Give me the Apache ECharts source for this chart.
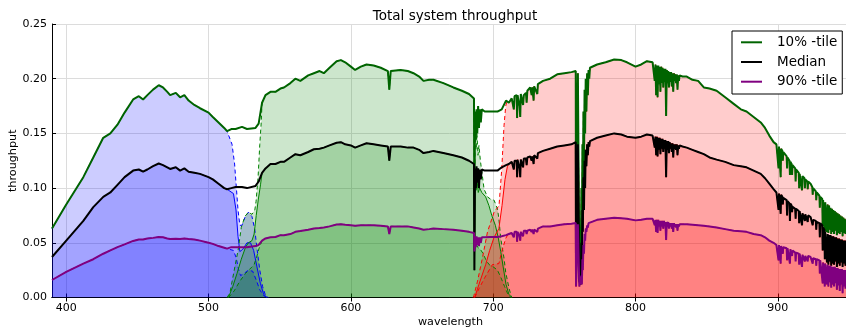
<!DOCTYPE html>
<html>
<head>
<meta charset="utf-8">
<script src="https://cdn.jsdelivr.net/npm/echarts@6/dist/echarts.min.js"></script>
<style>
html, body { margin: 0; padding: 0; background: #fff; }
#chart { width: 846px; height: 329px; }
</style>
</head>
<body>
<div id="chart"></div>
<script>
// Wavelength grid (nm) shared by the three total-throughput percentiles.
// Rows are split by spectral region; the last blocks carry telluric absorption lines.
const wavelength = [
  // blue / green continuum
  390, 400, 412, 419, 426, 431, 436, 441, 447, 451, 454, 457, 461, 465, 468, 471, 473, 477, 480, 483,
  486, 490, 494, 500, 503, 507, 511, 513, 516, 519, 523.5, 527, 533, 535.2, 537.6, 540, 543.5, 547, 550.5, 553,
  557.5, 561, 564.5, 570, 574, 578, 581, 585, 590, 593, 596, 600, 603, 607, 611, 616, 621, 626, 627, 628,
  635, 640, 644, 648, 651, 655, 658, 665, 672, 678, 683, 686.5, 686.8, 687.2, 687.8, 688.3, 688.8, 689.4, 690, 690.6,
  691.3, 692, 694, 698, 703, 706, 709,
  // 711-735 water lines
  711, 713, 714, 714.5, 715, 716.5, 716.8, 717.1, 718, 718.5, 719, 719.4, 720.5, 721, 721.5, 723, 723.5, 724, 726, 727,
  727.5, 728.4, 728.8, 730, 731, 731.4, 735,
  // O2 A band
  740, 745, 750, 755, 758, 758.2, 759.2, 759.5, 760.2, 760.5, 761.5, 762, 762.3, 762.7, 763, 763.4, 763.8, 764.2, 764.6, 765,
  765.5, 766, 766.5, 767, 767.5, 768, 773, 779, 785, 790, 794, 800, 804, 808, 812,
  // 813-833 water band
  813, 813.5, 814, 814.5, 815, 815.5, 816, 816.5, 817, 817.5, 818, 818.5, 819, 819.5, 820, 820.5, 821, 821.5, 822, 822.5,
  823, 823.5, 824, 824.5, 825, 825.5, 826, 826.5, 827, 827.5, 828, 828.5, 829, 829.5, 830, 830.5, 831, 832, 833,
  // red continuum
  836, 840, 844, 848, 852, 857, 863, 869, 874, 878, 883, 888, 891, 894,
  // 900+ water lines
  897, 899, 900.2, 900.5, 900.8, 901.7, 902, 902.3, 903.2, 903.5, 903.8, 905, 906.2, 906.5, 906.8, 908.2, 908.5, 908.8, 909.7, 910,
  910.3, 912.2, 912.5, 912.8, 914.7, 915, 915.3, 916.7, 917, 917.3, 918.7, 919, 919.3, 920.7, 921, 921.3, 923, 924.2, 924.5, 924.8,
  926.7, 927, 927.3, 929.2, 929.5, 929.8, 931.2, 931.5, 931.8, 932.7, 933, 933.3,
  934, 934.5, 935, 935.5, 936, 936.5, 937, 937.5, 938, 938.5, 939, 939.5, 940, 940.5, 941, 941.5, 942, 942.5, 943, 943.5,
  944, 944.5, 945, 945.5, 946, 946.5, 947, 947.5, 948, 948.5, 949, 949.5, 950
];

const tile10 = [
  0.063, 0.085, 0.110, 0.128, 0.146, 0.150, 0.158, 0.169, 0.181, 0.184, 0.181, 0.185, 0.190, 0.194, 0.192, 0.188, 0.185, 0.187, 0.183, 0.185,
  0.180, 0.176, 0.173, 0.169, 0.165, 0.160, 0.155, 0.152, 0.154, 0.154, 0.156, 0.154, 0.155, 0.159, 0.178, 0.185, 0.188, 0.188, 0.191, 0.192,
  0.196, 0.200, 0.198, 0.203, 0.205, 0.207, 0.205, 0.210, 0.216, 0.217, 0.215, 0.211, 0.208, 0.211, 0.213, 0.212, 0.210, 0.207, 0.190, 0.207,
  0.208, 0.207, 0.205, 0.202, 0.198, 0.199, 0.199, 0.196, 0.192, 0.189, 0.186, 0.182, 0.060, 0.170, 0.145, 0.172, 0.150, 0.175, 0.155, 0.172,
  0.160, 0.172, 0.170, 0.170, 0.170, 0.172, 0.180,
  0.178, 0.182, 0.183, 0.172, 0.184, 0.185, 0.164, 0.185, 0.186, 0.175, 0.165, 0.186, 0.186, 0.176, 0.185, 0.187, 0.178, 0.189, 0.192, 0.185,
  0.192, 0.180, 0.193, 0.194, 0.186, 0.195, 0.198,
  0.200, 0.204, 0.205, 0.206, 0.207, 0.030, 0.030, 0.205, 0.205, 0.030, 0.035, 0.100, 0.060, 0.140, 0.090, 0.170, 0.120, 0.190, 0.150, 0.200,
  0.170, 0.205, 0.185, 0.208, 0.200, 0.210, 0.213, 0.215, 0.2175, 0.217, 0.215, 0.211, 0.213, 0.216, 0.215,
  0.214, 0.198, 0.213, 0.185, 0.212, 0.183, 0.212, 0.195, 0.211, 0.188, 0.211, 0.196, 0.210, 0.192, 0.209, 0.197, 0.209, 0.166, 0.208, 0.196,
  0.207, 0.192, 0.206, 0.197, 0.206, 0.193, 0.205, 0.188, 0.205, 0.198, 0.204, 0.196, 0.204, 0.190, 0.203, 0.198, 0.203, 0.202, 0.202,
  0.202, 0.199, 0.198, 0.192, 0.191, 0.189, 0.183, 0.177, 0.172, 0.170, 0.165, 0.160, 0.155, 0.148,
  0.142, 0.140, 0.139, 0.118, 0.138, 0.137, 0.110, 0.136, 0.134, 0.125, 0.133, 0.131, 0.129, 0.118, 0.128, 0.125, 0.112, 0.124, 0.122, 0.112,
  0.121, 0.118, 0.106, 0.117, 0.114, 0.100, 0.113, 0.112, 0.098, 0.111, 0.109, 0.100, 0.108, 0.106, 0.099, 0.106, 0.104, 0.101, 0.094, 0.100,
  0.097, 0.089, 0.096, 0.093, 0.082, 0.092, 0.090, 0.065, 0.089, 0.088, 0.060, 0.087,
  0.087, 0.060, 0.085, 0.059, 0.084, 0.062, 0.082, 0.058, 0.081, 0.060, 0.080, 0.058, 0.079, 0.061, 0.078, 0.057, 0.077, 0.059, 0.076, 0.058,
  0.075, 0.060, 0.074, 0.056, 0.073, 0.059, 0.072, 0.058, 0.071, 0.060, 0.070, 0.058, 0.069
];

const median = [
  0.037, 0.052, 0.070, 0.0826, 0.092, 0.096, 0.103, 0.110, 0.116, 0.117, 0.115, 0.117, 0.120, 0.1225, 0.121, 0.119, 0.1175, 0.119, 0.116, 0.118,
  0.115, 0.114, 0.113, 0.110, 0.108, 0.104, 0.100, 0.099, 0.100, 0.101, 0.101, 0.100, 0.102, 0.106, 0.114, 0.118, 0.122, 0.122, 0.124, 0.124,
  0.128, 0.131, 0.130, 0.133, 0.1355, 0.136, 0.137, 0.139, 0.1415, 0.142, 0.140, 0.139, 0.137, 0.139, 0.141, 0.140, 0.139, 0.138, 0.125, 0.138,
  0.138, 0.137, 0.137, 0.135, 0.132, 0.133, 0.134, 0.132, 0.130, 0.128, 0.125, 0.122, 0.025, 0.118, 0.100, 0.120, 0.105, 0.118, 0.100, 0.117,
  0.108, 0.117, 0.116, 0.116, 0.116, 0.119, 0.121,
  0.122, 0.124, 0.124, 0.117, 0.125, 0.125, 0.110, 0.126, 0.126, 0.118, 0.110, 0.126, 0.126, 0.119, 0.127, 0.127, 0.121, 0.128, 0.129, 0.125,
  0.129, 0.122, 0.130, 0.131, 0.127, 0.132, 0.134,
  0.136, 0.138, 0.139, 0.140, 0.142, 0.015, 0.015, 0.140, 0.140, 0.015, 0.012, 0.050, 0.030, 0.080, 0.060, 0.110, 0.080, 0.125, 0.100, 0.135,
  0.120, 0.140, 0.130, 0.142, 0.138, 0.143, 0.146, 0.148, 0.150, 0.149, 0.147, 0.146, 0.147, 0.149, 0.148,
  0.148, 0.137, 0.147, 0.130, 0.147, 0.129, 0.146, 0.135, 0.146, 0.131, 0.145, 0.136, 0.145, 0.133, 0.144, 0.136, 0.144, 0.110, 0.143, 0.135,
  0.143, 0.132, 0.142, 0.136, 0.141, 0.133, 0.141, 0.128, 0.140, 0.136, 0.140, 0.135, 0.140, 0.130, 0.139, 0.136, 0.139, 0.138, 0.138,
  0.137, 0.135, 0.133, 0.131, 0.128, 0.126, 0.124, 0.121, 0.120, 0.119, 0.116, 0.113, 0.109, 0.104,
  0.099, 0.096, 0.095, 0.080, 0.095, 0.094, 0.0765, 0.094, 0.092, 0.085, 0.091, 0.090, 0.089, 0.075, 0.088, 0.086, 0.070, 0.086, 0.084, 0.078,
  0.083, 0.081, 0.072, 0.081, 0.079, 0.068, 0.079, 0.078, 0.066, 0.077, 0.076, 0.070, 0.076, 0.075, 0.069, 0.075, 0.0735, 0.072, 0.066, 0.071,
  0.070, 0.062, 0.069, 0.068, 0.055, 0.068, 0.066, 0.043, 0.064, 0.062, 0.035, 0.060,
  0.059, 0.032, 0.058, 0.030, 0.057, 0.033, 0.057, 0.029, 0.056, 0.031, 0.056, 0.030, 0.055, 0.033, 0.055, 0.028, 0.054, 0.031, 0.054, 0.029,
  0.053, 0.032, 0.053, 0.028, 0.052, 0.031, 0.052, 0.029, 0.052, 0.031, 0.051, 0.030, 0.051
];

const tile90 = [
  0.016, 0.0235, 0.031, 0.035, 0.040, 0.043, 0.046, 0.0485, 0.0517, 0.053, 0.053, 0.054, 0.0545, 0.0553, 0.055, 0.054, 0.0535, 0.0538, 0.0535, 0.054,
  0.0535, 0.053, 0.052, 0.050, 0.049, 0.047, 0.0455, 0.0447, 0.046, 0.046, 0.046, 0.046, 0.047, 0.048, 0.052, 0.054, 0.055, 0.0553, 0.057, 0.057,
  0.058, 0.060, 0.0607, 0.062, 0.063, 0.0635, 0.064, 0.065, 0.0668, 0.067, 0.0665, 0.066, 0.0655, 0.066, 0.066, 0.066, 0.0655, 0.065, 0.058, 0.065,
  0.065, 0.065, 0.064, 0.063, 0.062, 0.0625, 0.063, 0.0625, 0.062, 0.061, 0.060, 0.059, 0.042, 0.056, 0.046, 0.056, 0.048, 0.055, 0.047, 0.055,
  0.050, 0.055, 0.055, 0.0553, 0.0553, 0.056, 0.057,
  0.058, 0.059, 0.059, 0.055, 0.060, 0.060, 0.051, 0.060, 0.060, 0.056, 0.052, 0.060, 0.060, 0.056, 0.061, 0.061, 0.058, 0.061, 0.062, 0.060,
  0.062, 0.058, 0.062, 0.063, 0.060, 0.063, 0.065,
  0.065, 0.066, 0.067, 0.0675, 0.068, 0.010, 0.010, 0.067, 0.067, 0.010, 0.009, 0.020, 0.012, 0.035, 0.025, 0.048, 0.040, 0.058, 0.052, 0.063,
  0.060, 0.066, 0.064, 0.068, 0.067, 0.069, 0.071, 0.072, 0.073, 0.0725, 0.072, 0.0705, 0.071, 0.072, 0.072,
  0.072, 0.066, 0.071, 0.060, 0.071, 0.059, 0.071, 0.065, 0.070, 0.061, 0.070, 0.065, 0.070, 0.063, 0.070, 0.066, 0.069, 0.0525, 0.069, 0.065,
  0.069, 0.063, 0.068, 0.065, 0.068, 0.063, 0.068, 0.060, 0.068, 0.065, 0.067, 0.064, 0.067, 0.061, 0.067, 0.065, 0.067, 0.067, 0.067,
  0.067, 0.0665, 0.066, 0.0655, 0.065, 0.064, 0.0625, 0.061, 0.0605, 0.060, 0.058, 0.057, 0.055, 0.052,
  0.050, 0.048, 0.048, 0.034, 0.048, 0.047, 0.031, 0.047, 0.046, 0.040, 0.046, 0.045, 0.045, 0.034, 0.045, 0.044, 0.031, 0.044, 0.043, 0.038,
  0.043, 0.041, 0.033, 0.041, 0.040, 0.030, 0.040, 0.039, 0.028, 0.039, 0.038, 0.033, 0.038, 0.038, 0.033, 0.038, 0.037, 0.036, 0.031, 0.036,
  0.035, 0.029, 0.035, 0.034, 0.022, 0.034, 0.033, 0.013, 0.032, 0.031, 0.010, 0.031,
  0.030, 0.012, 0.030, 0.010, 0.029, 0.014, 0.029, 0.009, 0.028, 0.012, 0.028, 0.010, 0.028, 0.013, 0.027, 0.007, 0.027, 0.011, 0.026, 0.006,
  0.026, 0.012, 0.026, 0.004, 0.025, 0.010, 0.025, 0.008, 0.025, 0.012, 0.025, 0.010, 0.025
];

// Filter roll-off edges, [wavelength, throughput]
const blueFall10 = [[514, 0.152], [516.5, 0.140], [518.3, 0.122], [519.5, 0.101], [520.7, 0.080], [522, 0.066], [523.5, 0.066], [525.5, 0.073], [528, 0.078], [530.5, 0.074], [532.5, 0.062], [534, 0.045], [536, 0.025], [538, 0.010], [540, 0.002], [542, 0]];
const blueFall50 = [[514, 0.100], [517.5, 0.095], [519.3, 0.080], [520.7, 0.056], [522, 0.042], [524, 0.044], [527, 0.050], [529.5, 0.050], [531.7, 0.043], [534, 0.028], [536.4, 0.013], [538.7, 0.003], [541, 0]];
const blueFall90 = [[514, 0.045], [517.5, 0.043], [519.5, 0.036], [521, 0.026], [522.5, 0.020], [525, 0.022], [528, 0.025], [531, 0.024], [533.5, 0.016], [536, 0.007], [538.5, 0.002], [541, 0]];

const greenRise10 = [[513, 0], [515, 0.004], [517.6, 0.022], [520.7, 0.043], [523, 0.064], [525.5, 0.074], [528, 0.078], [530.5, 0.076], [532.5, 0.080], [533.4, 0.088], [534.8, 0.110], [536, 0.140], [537, 0.160], [537.6, 0.178]];
const greenRise50 = [[514, 0], [517, 0.010], [520, 0.022], [523, 0.035], [526, 0.046], [528, 0.050], [530.5, 0.052], [532, 0.058], [533.5, 0.075], [535, 0.090], [536.5, 0.103], [537.6, 0.114]];
const greenRise90 = [[514, 0], [518, 0.006], [522, 0.015], [526, 0.022], [529, 0.026], [532, 0.030], [534, 0.038], [535.5, 0.045], [537.6, 0.052]];

const greenFall10 = [[686.8, 0.060], [687.3, 0.150], [688, 0.135], [688.6, 0.150], [689.3, 0.130], [690, 0.139], [691, 0.125], [692.4, 0.111], [693.6, 0.099], [696, 0.092], [698, 0.090], [700.6, 0.089], [703, 0.081], [704, 0.072], [705.3, 0.054], [707.6, 0.036], [708.8, 0.023], [711.2, 0.008], [713, 0]];
const greenFall50 = [[686.8, 0.025], [687.3, 0.110], [688, 0.098], [688.6, 0.108], [689.5, 0.096], [690.5, 0.100], [692, 0.096], [694.7, 0.092], [697, 0.084], [699, 0.075], [701.5, 0.066], [703.5, 0.055], [705.3, 0.042], [707, 0.028], [709, 0.012], [711, 0.003], [713, 0]];
const greenFall90 = [[686.8, 0.042], [687.5, 0.052], [689, 0.046], [691, 0.044], [693, 0.040], [695, 0.034], [697.2, 0.030], [700, 0.028], [703, 0.025], [705.5, 0.018], [708, 0.010], [710, 0.004], [712, 0]];

const redRise10 = [[686, 0], [686.5, 0.002], [689, 0.015], [692.4, 0.036], [696, 0.060], [700.6, 0.078], [704.1, 0.084], [706, 0.117], [707.6, 0.157], [708.8, 0.175], [709.8, 0.180]];
const redRise50 = [[687, 0], [690, 0.012], [694.7, 0.030], [697.5, 0.043], [700.6, 0.055], [704, 0.063], [706.2, 0.084], [708.3, 0.108], [710, 0.120]];
const redRise90 = [[687, 0], [690, 0.008], [694, 0.018], [699.4, 0.030], [704, 0.031], [706, 0.042], [708.8, 0.054], [710.5, 0.058]];

const xTicks = [400, 500, 600, 700, 800, 900];
const yTicks = [0, 0.05, 0.10, 0.15, 0.20, 0.25];

const FONT = 'DejaVu Sans';

// Pair the grid with a percentile and keep the points inside (lo, hi)
function pairs(vals, lo, hi) {
  const out = [];
  wavelength.forEach((w, i) => { if (w > lo && w < hi) out.push([w, vals[i]]); });
  return out;
}

// Per-filter curves: total throughput inside the band, measured edges outside
const bands = [
  { color: '#0000ff', fill: 'rgba(0,0,255,0.2)', curves: [
    pairs(tile10, 0, 514).concat(blueFall10),
    pairs(median, 0, 514).concat(blueFall50),
    pairs(tile90, 0, 514).concat(blueFall90)
  ]},
  { color: '#008000', fill: 'rgba(0,128,0,0.2)', curves: [
    greenRise10.concat(pairs(tile10, 537.6, 686.8), greenFall10),
    greenRise50.concat(pairs(median, 537.6, 686.8), greenFall50),
    greenRise90.concat(pairs(tile90, 537.6, 686.8), greenFall90)
  ]},
  { color: '#ff0000', fill: 'rgba(255,0,0,0.2)', curves: [
    redRise10.concat(pairs(tile10, 709.8, 1000)),
    redRise50.concat(pairs(median, 710, 1000)),
    redRise90.concat(pairs(tile90, 710.5, 1000))
  ]}
];

const series = [];
bands.forEach(b => b.curves.forEach(c => series.push({
  type: 'line', data: c, symbol: 'none', silent: true,
  lineStyle: { width: 0, opacity: 0 }, areaStyle: { color: b.fill, opacity: 1 }
})));
bands.forEach(b => b.curves.forEach((c, k) => series.push({
  type: 'line', data: c, symbol: 'none', silent: true,
  lineStyle: { width: 1, color: b.color, type: k === 1 ? 'solid' : [4, 3] }
})));
[['10% -tile', tile10, '#006400'], ['Median', median, '#000000'], ['90% -tile', tile90, '#800080']].forEach(([name, vals, col]) => {
  series.push({
    name, type: 'line', symbol: 'none', silent: true,
    data: pairs(vals, 0, 1000),
    lineStyle: { width: 2, color: col }, itemStyle: { color: col }
  });
});

const chart = echarts.init(document.getElementById('chart'), null, { renderer: 'canvas' });
chart.setOption({
  animation: false,
  backgroundColor: '#fff',
  textStyle: { fontFamily: FONT },
  title: {
    text: 'Total system throughput', left: 450, top: 4, textAlign: 'center',
    textStyle: { fontFamily: FONT, fontSize: 13.5, fontWeight: 'normal', color: '#000' }
  },
  legend: {
    data: ['10% -tile', 'Median', '90% -tile'],
    icon: 'rect',
    orient: 'vertical', left: 732, top: 31,
    itemWidth: 21, itemHeight: 2, itemGap: 5.7,
    padding: [4.3, 5, 5.3, 9],
    borderColor: '#000', borderWidth: 1, backgroundColor: '#fff',
    textStyle: { fontFamily: FONT, fontSize: 13.5, lineHeight: 14, color: '#000', padding: [0, 0, 0, 10] }
  },
  grid: { left: 52, top: 24, width: 797, height: 273.5, containLabel: false, outerBoundsMode: 'none' },
  xAxis: [{
    type: 'value', min: 390, max: 950,
    name: 'wavelength', nameLocation: 'middle', nameGap: 19, nameMoveOverlap: false,
    nameTextStyle: { fontFamily: FONT, fontSize: 11.2, color: '#000' },
    axisLine: { show: true, onZero: false, lineStyle: { color: '#000', width: 1 } },
    axisTick: { show: true, inside: true, length: 4, customValues: xTicks, lineStyle: { color: '#000' } },
    axisLabel: { fontFamily: FONT, fontSize: 11, color: '#000', margin: 5, customValues: xTicks },
    splitLine: { show: true, lineStyle: { color: '#dcdcdc', width: 1 } }
  }, {
    type: 'value', min: 390, max: 950, position: 'top',
    axisLine: { show: true, lineStyle: { color: '#000', width: 1 } },
    axisTick: { show: true, inside: true, length: 4, customValues: xTicks, lineStyle: { color: '#000' } },
    axisLabel: { show: false },
    splitLine: { show: false }
  }],
  yAxis: {
    type: 'value', min: 0, max: 0.25, interval: 0.05,
    name: 'throughput', nameLocation: 'middle', nameGap: 33, nameMoveOverlap: false,
    nameTextStyle: { fontFamily: FONT, fontSize: 11.2, color: '#000' },
    axisLine: { show: true, lineStyle: { color: '#000', width: 1 } },
    axisTick: { show: true, inside: true, length: 4, lineStyle: { color: '#000' } },
    axisLabel: { fontFamily: FONT, fontSize: 11, color: '#000', margin: 5,
      formatter: v => (yTicks.find(t => Math.abs(t - v) < 1e-9) ?? v).toFixed(2) },
    splitLine: { show: true, lineStyle: { color: '#dcdcdc', width: 1 } }
  },
  series
});
</script>
</body>
</html>
